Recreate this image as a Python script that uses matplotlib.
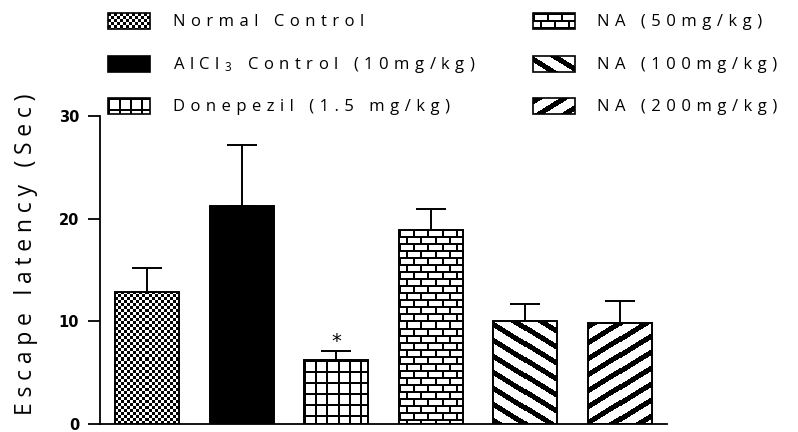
import re
import numpy as np
import matplotlib
matplotlib.use('Agg')
import matplotlib.pyplot as plt
from matplotlib.patches import Rectangle

plt.rcParams['font.family'] = ['Open Sans', 'DejaVu Sans']
plt.rcParams['mathtext.default'] = 'regular'

# escape latency, mean and SEM (upper bar only)
groups = ['Normal Control', 'AlCl$_3$ Control (10mg/kg)', 'Donepezil (1.5 mg/kg)',
          'NA (50mg/kg)', 'NA (100mg/kg)', 'NA (200mg/kg)']
means = [12.9, 21.2, 6.2, 18.9, 10.0, 9.8]
sem = [2.3, 6.0, 0.9, 2.0, 1.7, 2.2]
fills = ['checker', 'solid', 'grid', 'brick', 'back', 'fwd']
marks = ['', '', '*', '', '', '']
yticks = [0, 10, 20, 30]

DPI = 100
W, H = 798, 432


def texture(kind, w, h):
    """pixel tile for a fill pattern, 0 = black, 1 = white (row 0 = top)"""
    i, j = np.mgrid[0:h, 0:w]
    if kind == 'checker':
        img = ((i // 3 + j // 3) % 2).astype(float)
    elif kind == 'grid':
        img = ~((i % 11 < 2) | (j % 11 < 2))
    elif kind == 'brick':
        row = i // 7
        off = (row % 2) * 7
        img = ~((i % 7 < 2) | ((j + off) % 14 < 2))
    elif kind == 'back':
        img = (i - 0.62 * j) % 16 >= 6
    elif kind == 'fwd':
        img = (i + 0.62 * j) % 16 >= 6
    else:
        img = np.zeros((h, w))
    return np.asarray(img, dtype=float)


def spaced(s, gap='\u2009\u2009'):
    # open up letter spacing, leave mathtext pieces alone
    parts = re.split(r'(\$[^$]*\$)', s)
    out = []
    for p in parts:
        if p.startswith('$'):
            out.append(p)
        elif p:
            out.append(gap.join(p))
    return gap.join(out)


fig = plt.figure(figsize=(W / DPI, H / DPI), dpi=DPI)
ax = fig.add_axes([100 / W, 8 / H, 567 / W, 308 / H])

x = np.arange(len(means))
bw = 0.68
bars = ax.bar(x, means, width=bw, color='white', edgecolor='black',
              linewidth=1.4, zorder=2)
ax.set_xlim(-0.5, len(means) - 0.5)
ax.set_ylim(0, 30)

# fill each bar with its pixel pattern, clipped to the bar outline
for b, kind in zip(bars, fills):
    if kind == 'solid':
        b.set_facecolor('black')
        continue
    x0, y0 = b.get_x(), 0
    x1, y1 = x0 + b.get_width(), b.get_height()
    p0 = ax.transData.transform((x0, y0))
    p1 = ax.transData.transform((x1, y1))
    pw, ph = int(round(p1[0] - p0[0])), int(round(p1[1] - p0[1]))
    im = ax.imshow(texture(kind, pw, ph), cmap='gray', vmin=0, vmax=1,
                   extent=(x0, x1, y0, y1), origin='upper', aspect='auto',
                   interpolation='nearest', zorder=2.5)
    im.set_clip_path(b)
    b.set_facecolor('none')
    b.set_zorder(3)

ax.errorbar(x, means, yerr=[np.zeros(len(sem)), sem], fmt='none',
            ecolor='black', elinewidth=1.4, capsize=11, capthick=1.4, zorder=1)

for xi, m, s, t in zip(x, means, sem, marks):
    if t:
        ax.text(xi, m + s + 0.9, t, ha='center', va='center', fontsize=14,
                family='DejaVu Sans')

ax.set_xlim(-0.5, len(means) - 0.5)
ax.set_ylim(0, 30)
ax.set_xticks([])
ax.set_yticks(yticks)
ax.set_yticklabels([str(v) for v in yticks], fontsize=10.5, fontweight='bold',
                   family='DejaVu Sans')
ax.tick_params(axis='y', length=9, width=1.3, pad=6)
for side in ['top', 'right']:
    ax.spines[side].set_visible(False)
for side in ['left', 'bottom']:
    ax.spines[side].set_linewidth(1.3)
ax.set_ylabel(spaced('Escape latency (Sec)', '\u2005'), fontsize=16.5)
ax.yaxis.set_label_coords(-0.109, 0.55)

# legend drawn in pixel space on a transparent overlay
lax = fig.add_axes([0, 0, 1, 1], facecolor='none')
lax.axis('off')
cols = [(108, 173), (533, 597)]
rows = [21, 64, 106]
sw, sh = 42, 16
for k, (label, kind) in enumerate(zip(groups, fills)):
    sx, tx = cols[k // 3]
    cy = rows[k % 3]
    sy = cy - sh / 2
    if kind == 'solid':
        lax.add_patch(Rectangle((sx, sy), sw, sh, facecolor='black',
                                edgecolor='black', linewidth=1.2))
    else:
        lax.imshow(texture(kind, sw, sh), cmap='gray', vmin=0, vmax=1,
                   extent=(sx, sx + sw, sy + sh, sy), origin='upper',
                   aspect='auto', interpolation='nearest')
        lax.add_patch(Rectangle((sx, sy), sw, sh, facecolor='none',
                                edgecolor='black', linewidth=1.2))
    lax.text(tx, cy + 1, spaced(label), ha='left', va='center', fontsize=12)
lax.set_xlim(0, W)
lax.set_ylim(H, 0)

fig.savefig('out.png', dpi=DPI)
